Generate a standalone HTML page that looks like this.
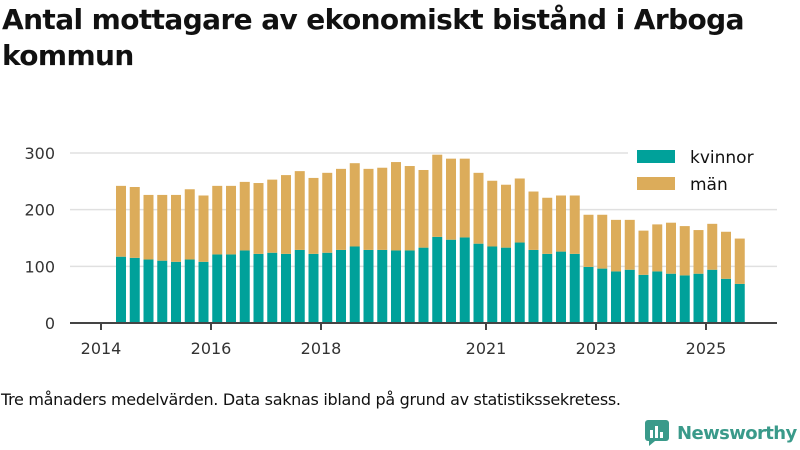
<!DOCTYPE html>
<html><head><meta charset="utf-8"><style>
body{margin:0;width:800px;height:450px;background:#fff;font-family:"Liberation Sans","DejaVu Sans",sans-serif;overflow:hidden;position:relative}
h1{position:absolute;left:2px;top:2px;margin:0;font-size:28px;line-height:36px;font-weight:bold;color:#111;font-family:"DejaVu Sans","Liberation Sans",sans-serif;letter-spacing:-0.6px}
.note{position:absolute;left:1px;top:390px;font-size:16px;color:#111;font-family:"DejaVu Sans",sans-serif;letter-spacing:-0.3px}
.logo{position:absolute;left:645px;top:420px;font-size:18px;font-weight:bold;color:#3a9a8a;font-family:"DejaVu Sans",sans-serif;display:flex;align-items:center;gap:8px;letter-spacing:-0.6px}
</style></head><body>
<h1>Antal mottagare av ekonomiskt bistånd i Arboga<br>kommun</h1>
<svg id="c" width="800" height="450" style="position:absolute;left:0;top:0"></svg>
<div class="note">Tre månaders medelvärden. Data saknas ibland på grund av statistikssekretess.</div>
<div class="logo"><svg width="24" height="26"><rect x="0" y="0" width="24" height="21" rx="3" fill="#3a9a8a"/><path d="M4 21 L4 26 L10 21Z" fill="#3a9a8a"/><rect x="5" y="10" width="3" height="8" fill="#fff"/><rect x="10" y="6" width="3" height="12" fill="#fff"/><rect x="15" y="12" width="3" height="6" fill="#fff"/></svg><span>Newsworthy</span></div>
<script>
const kvinnor=[117,115,112,110,108,112,108,121,121,128,122,124,122,129,122,124,129,135,129,129,128,128,133,152,147,151,140,135,133,142,129,122,126,122,99,96,91,94,85,91,87,84,87,94,78,69];
const totals=[242,240,226,226,226,236,225,242,242,249,247,253,261,268,256,265,272,282,272,274,284,277,270,297,290,290,265,251,244,255,232,221,225,225,191,191,182,182,163,174,177,171,164,175,161,149];
const yTicks=[0,100,200,300];
const xTicks=[2014,2016,2018,2021,2023,2025];
const NS="http://www.w3.org/2000/svg",svg=document.getElementById('c');
const y=v=>323-v*0.5667, xYear=t=>101+(t-2014)*55, xBar=i=>121+i*13.75;
function mk(t,a){const e=document.createElementNS(NS,t);for(const k in a)e.setAttribute(k,a[k]);svg.appendChild(e);return e;}
yTicks.forEach(v=>{
 if(v>0){const g=mk('line',{x1:70,x2:777,y1:y(v),y2:y(v),stroke:'#e0e0e0','stroke-width':1.5});
 
 }
 const t=mk('text',{x:55,y:y(v)+6,'text-anchor':'end','font-size':16,fill:'#333','font-family':'DejaVu Sans,sans-serif'});t.textContent=v;
 
 
});
kvinnor.forEach((k,i)=>{
 const x=xBar(i)-5,m=totals[i]-k;
 const a=mk('rect',{x:x,y:y(k),width:10,height:k*0.5667,fill:'#00a19a'});
 
 
 const b=mk('rect',{x:x,y:y(totals[i]),width:10,height:m*0.5667,fill:'#dcac5a'});
 
 
});
const ax=mk('line',{x1:70,x2:777,y1:323,y2:323,stroke:'#444','stroke-width':2});


xTicks.forEach(t=>{
 const l=mk('line',{x1:xYear(t),x2:xYear(t),y1:323,y2:330,stroke:'#444','stroke-width':2});
 
 
 const tx=mk('text',{x:xYear(t),y:354,'text-anchor':'middle','font-size':16,fill:'#333','font-family':'DejaVu Sans,sans-serif'});tx.textContent=t;
 
 
});
const lbg=mk('rect',{x:628,y:143,width:150,height:56,fill:'#fff'});


[['kvinnor','#00a19a',157],['män','#dcac5a',184]].forEach(([n,c,yy])=>{
 const r=mk('rect',{x:637,y:yy-7,width:38,height:13,fill:c});
 
 
 const t=mk('text',{x:690,y:yy+6,'font-size':17,fill:'#111','font-family':'DejaVu Sans,sans-serif'});t.textContent=n;
 
 
});
</script>
</body></html>
